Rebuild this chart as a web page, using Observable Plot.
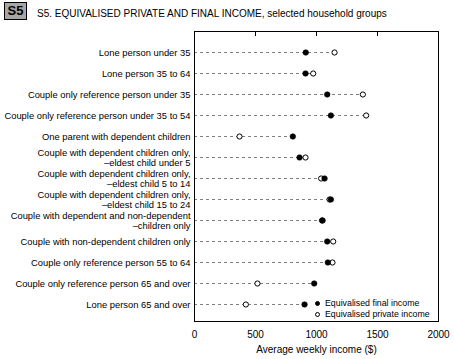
<!DOCTYPE html>
<html><head><meta charset="utf-8">
<script src="https://cdn.jsdelivr.net/npm/d3@7"></script>
<script src="https://cdn.jsdelivr.net/npm/@observablehq/plot@0.6"></script>
<style>
body{margin:0;background:#fff;font-family:"Liberation Sans",Arial,sans-serif;}
#wrap{position:relative;width:454px;height:359px;overflow:hidden;}
#title{position:relative;height:24px;}
#badge{position:absolute;left:4px;top:2px;width:21px;height:16px;background:#a6a6a6;border:1px solid #000;font-weight:bold;font-size:13px;line-height:16px;text-align:center;color:#000;}
#ttext{position:absolute;left:37px;top:8px;font-size:10px;color:#000;white-space:nowrap;}
#legend{position:absolute;left:315px;top:298px;font-size:8.8px;line-height:11px;color:#000;}
#legend div{display:flex;align-items:center;white-space:nowrap;}
#legend span.m{display:inline-block;width:5px;height:5px;border-radius:50%;margin-right:5px;border:1px solid #000;box-sizing:border-box;}
</style></head>
<body><div id="wrap">
<div id="title"><div id="badge">S5</div><div id="ttext">S5. EQUIVALISED PRIVATE AND FINAL INCOME, selected household groups</div></div>
<div id="chart"></div>
<div id="legend">
<div><span class="m" style="background:#000"></span>Equivalised final income</div>
<div><span class="m" style="background:#fff"></span>Equivalised private income</div>
</div>
</div>
<script>
const categories = [
  "Lone person under 35",
  "Lone person 35 to 64",
  "Couple only reference person under 35",
  "Couple only reference person under 35 to 54",
  "One parent with dependent children",
  "Couple with dependent children only,\n–eldest child under 5",
  "Couple with dependent children only,\n–eldest child 5 to 14",
  "Couple with dependent children only,\n–eldest child 15 to 24",
  "Couple with dependent and non-dependent\n–children only",
  "Couple with non-dependent children only",
  "Couple only reference person 55 to 64",
  "Couple only reference person 65 and over",
  "Lone person 65 and over"
];
const finalIncome   = [912, 910, 1088, 1118, 806, 861, 1066, 1118, 1050, 1088, 1093, 981, 902];
const privateIncome = [1148, 973, 1380, 1407, 369, 910, 1038, 1107, 1045, 1137, 1131, 516, 421];
const xTicks = [0, 500, 1000, 1500, 2000];

const rows = categories.map((c, i) => ({cat: c, fin: finalIncome[i], priv: privateIncome[i]}));

const chart = Plot.plot({
  width: 454,
  height: 335,
  marginTop: 7,
  marginLeft: 194,
  marginRight: 16,
  marginBottom: 38,
  style: {fontFamily: '"Liberation Sans", Arial, sans-serif', fontSize: "10px", color: "#000", background: "#fff"},
  x: {domain: [0, 2000]},
  y: {type: "point", domain: categories, padding: 0, insetTop: 19, insetBottom: 16},
  marks: [
    Plot.ruleY(rows, {y: "cat", x1: 0, x2: d => Math.max(d.fin, d.priv), stroke: "#7f7f7f", strokeDasharray: "3,3"}),
    Plot.frame({stroke: "#000"}),
    Plot.axisX({anchor: "top", ticks: [500, 1000, 1500], tickSize: -4, tickFormat: () => "", label: null}),
    Plot.axisX({anchor: "bottom", ticks: xTicks, tickSize: 0, tickPadding: 9, tickFormat: d => String(d),
      label: "Average weekly income ($)", labelAnchor: "center", labelOffset: 31, labelArrow: false}),
    Plot.axisY({tickSize: 0, tickPadding: 4, label: null, lineHeight: 1.05, fontSize: 9.4}),
    Plot.dot(rows, {y: "cat", x: "priv", r: 2.6, fill: "#fff", stroke: "#000", strokeWidth: 1}),
    Plot.dot(rows, {y: "cat", x: "fin", r: 2.8, fill: "#000", stroke: "#000", strokeWidth: 0.5})
  ]
});
document.getElementById("chart").appendChild(chart);
</script>
</body></html>
